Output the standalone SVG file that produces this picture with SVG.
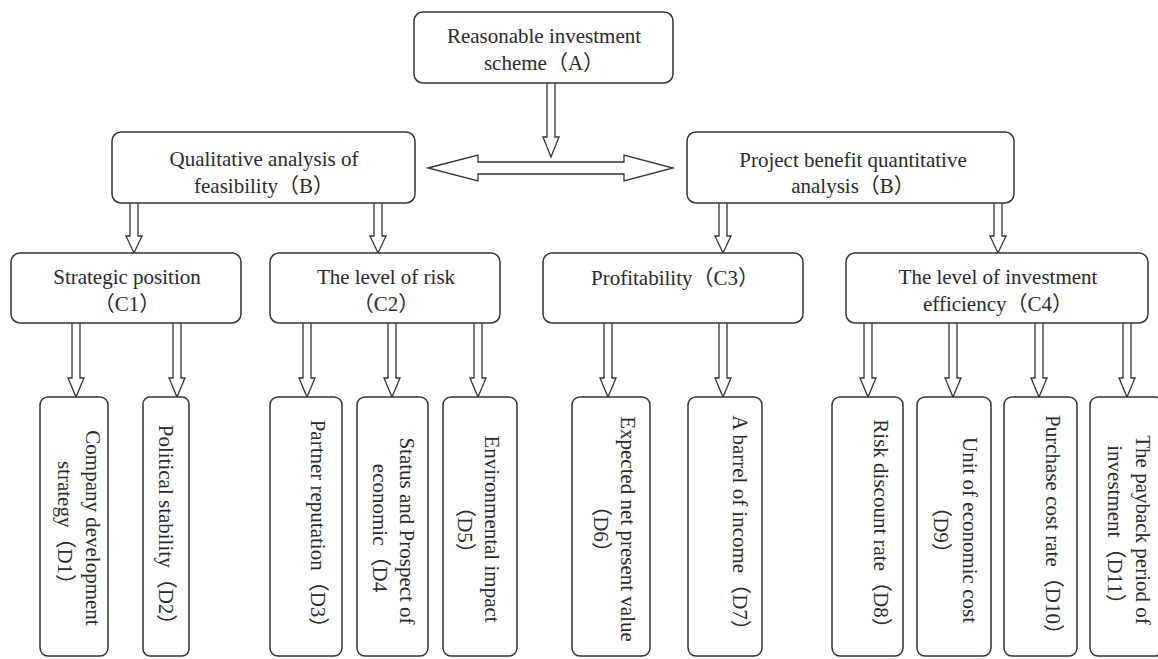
<svg xmlns="http://www.w3.org/2000/svg" width="1158" height="659" viewBox="0 0 1158 659">
<style>
.box{fill:#fff;stroke:#333;stroke-width:1.5}
.arr{fill:#fff;stroke:#333;stroke-width:1.3;stroke-linejoin:miter}
text{font-family:"Liberation Serif","Noto Sans CJK SC",serif;font-size:21px;fill:#2a2a2a;text-anchor:middle}
</style>
<rect width="1158" height="659" fill="#fff"/>
<g id="connectors">
<path class="arr" d="M547,83 V137 H543 L551,157 L559,137 H555 V83"/>
<path class="arr" d="M428,168 L478,155 V162 H624 V155 L673,168 L624,181 V174 H478 V181 Z"/>
<path class="arr" d="M130,203 V236 H126 L134,253 L142,236 H138 V203"/>
<path class="arr" d="M374,203 V236 H370 L378,253 L386,236 H382 V203"/>
<path class="arr" d="M719,203 V236 H715 L723,253 L731,236 H727 V203"/>
<path class="arr" d="M994,203 V236 H990 L998,253 L1006,236 H1002 V203"/>
<path class="arr" d="M72,323 V378 H68 L76,397 L84,378 H80 V323"/>
<path class="arr" d="M173,323 V378 H169 L177,397 L185,378 H181 V323"/>
<path class="arr" d="M303,323 V378 H299 L307,397 L315,378 H311 V323"/>
<path class="arr" d="M388,323 V378 H384 L392,397 L400,378 H396 V323"/>
<path class="arr" d="M474,323 V378 H470 L478,397 L486,378 H482 V323"/>
<path class="arr" d="M604,323 V378 H600 L608,397 L616,378 H612 V323"/>
<path class="arr" d="M719,323 V378 H715 L723,397 L731,378 H727 V323"/>
<path class="arr" d="M864,323 V378 H860 L868,397 L876,378 H872 V323"/>
<path class="arr" d="M949,323 V378 H945 L953,397 L961,378 H957 V323"/>
<path class="arr" d="M1035,323 V378 H1031 L1039,397 L1047,378 H1043 V323"/>
<path class="arr" d="M1123,323 V378 H1119 L1127,397 L1135,378 H1131 V323"/>
</g>
<g id="A"><rect class="box" x="414" y="12" width="259" height="71" rx="9"/>
<text x="544" y="43">Reasonable investment</text><text x="544" y="70">scheme（A）</text></g>
<g id="B1"><rect class="box" x="112" y="132" width="303" height="71" rx="9"/>
<text x="264" y="166">Qualitative analysis of</text><text x="264" y="193">feasibility（B）</text></g>
<g id="B2"><rect class="box" x="687" y="132" width="327" height="71" rx="9"/>
<text x="853" y="167">Project benefit quantitative</text><text x="853" y="193">analysis（B）</text></g>
<g id="C1"><rect class="box" x="11" y="253" width="230" height="70" rx="9"/>
<text x="127" y="284">Strategic position</text><text x="127" y="311">（C1）</text></g>
<g id="C2"><rect class="box" x="270" y="253" width="230" height="70" rx="9"/>
<text x="386" y="284">The level of risk</text><text x="386" y="311">（C2）</text></g>
<g id="C3"><rect class="box" x="543" y="253" width="260" height="70" rx="9"/>
<text x="675" y="285">Profitability（C3）</text></g>
<g id="C4"><rect class="box" x="846" y="253" width="302" height="70" rx="9"/>
<text x="998" y="284">The level of investment</text><text x="998" y="311">efficiency（C4）</text></g>
<g id="D1"><rect class="box" x="40" y="397" width="68" height="259" rx="8"/>
<text transform="translate(86,528) rotate(90)">Company development</text><text transform="translate(58,528) rotate(90)">strategy（D1）</text></g>
<g id="D2"><rect class="box" x="143" y="397" width="46" height="259" rx="7"/>
<text transform="translate(159,530) rotate(90)">Political stability（D2）</text></g>
<g id="D3"><rect class="box" x="270" y="397" width="72" height="259" rx="8"/>
<text transform="translate(311,529) rotate(90)">Partner reputation（D3）</text></g>
<g id="D4"><rect class="box" x="357" y="397" width="71" height="259" rx="8"/>
<text transform="translate(400,531) rotate(90)">Status and Prospect of</text><text transform="translate(373,528) rotate(90)">economic（D4</text></g>
<g id="D5"><rect class="box" x="443" y="397" width="74" height="259" rx="8"/>
<text transform="translate(485,529) rotate(90)">Environmental impact</text><text transform="translate(458,530) rotate(90)">（D5）</text></g>
<g id="D6"><rect class="box" x="572" y="397" width="78" height="259" rx="8"/>
<text transform="translate(621,529) rotate(90)">Expected net present value</text><text transform="translate(594,529) rotate(90)">（D6）</text></g>
<g id="D7"><rect class="box" x="688" y="397" width="74" height="259" rx="8"/>
<text transform="translate(733,528) rotate(90)">A barrel of income（D7）</text></g>
<g id="D8"><rect class="box" x="832" y="397" width="71" height="259" rx="8"/>
<text transform="translate(874,529) rotate(90)">Risk discount rate（D8）</text></g>
<g id="D9"><rect class="box" x="917" y="397" width="74" height="259" rx="8"/>
<text transform="translate(963,530) rotate(90)">Unit of economic cost</text><text transform="translate(934,530) rotate(90)">（D9）</text></g>
<g id="D10"><rect class="box" x="1004" y="397" width="73" height="259" rx="8"/>
<text transform="translate(1046,530) rotate(90)">Purchase cost rate（D10）</text></g>
<g id="D11"><rect class="box" x="1090" y="397" width="73" height="259" rx="8"/>
<text transform="translate(1136,530) rotate(90)">The payback period of</text><text transform="translate(1108,530) rotate(90)">investment（D11）</text></g>
</svg>
